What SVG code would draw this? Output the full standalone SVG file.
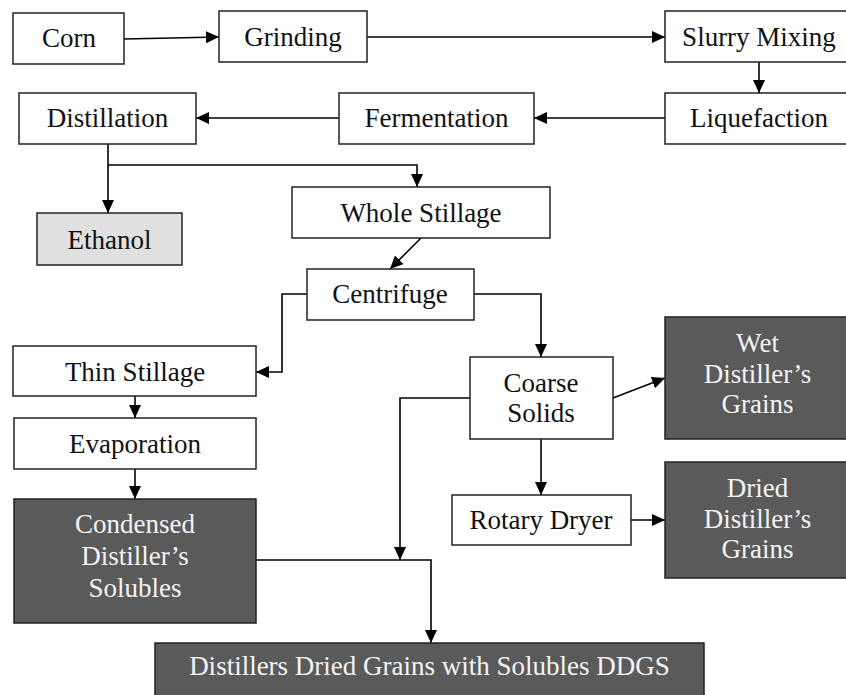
<svg xmlns="http://www.w3.org/2000/svg" width="846" height="695" viewBox="0 0 846 695">
<defs>
<marker id="ah" markerUnits="userSpaceOnUse" markerWidth="13" markerHeight="12" refX="13" refY="6" orient="auto">
<path d="M0,0 L13,6 L0,12 z" fill="#000"/>
</marker>
<style>
.n rect{fill:#fff;stroke:#222;stroke-width:1.5}
.n.g rect{fill:#e0e0e0}
.n.d rect{fill:#5a5a5a}
text{font-family:'Liberation Serif','Times New Roman','DejaVu Serif',serif;font-size:27px;fill:#111;text-anchor:middle}
.n.d text{fill:#f4f4f4}
#connectors path{fill:none;stroke:#000;stroke-width:1.6;marker-end:url(#ah)}
</style>
</defs>
<rect width="846" height="695" fill="#fff"/>
<g id="connectors">
<path d="M124,39 L219,37"/>
<path d="M367,37 L665,37"/>
<path d="M759,62 L759,93"/>
<path d="M665,118 L534,118"/>
<path d="M339,118 L196,118"/>
<path d="M108,144 L108,213"/>
<path d="M108,165 H417 V187"/>
<path d="M421,238 L390,269"/>
<path d="M307,294 H282 V372 H256"/>
<path d="M474,294 H541 V357"/>
<path d="M613,398 L665,378"/>
<path d="M541,439 L541,495"/>
<path d="M631,520 L665,520"/>
<path d="M470,398 H400 V560"/>
<path d="M256,560 H431 V643"/>
<path d="M135,396 L135,418"/>
<path d="M135,469 L135,499"/>
</g>
<g id="corn" class="n"><rect x="13" y="13" width="111" height="51"/><text x="69" y="47">Corn</text></g>
<g id="grinding" class="n"><rect x="219" y="11" width="148" height="51"/><text x="293" y="46">Grinding</text></g>
<g id="slurry" class="n"><rect x="665" y="11" width="190" height="51"/><text x="759" y="46">Slurry Mixing</text></g>
<g id="liquefaction" class="n"><rect x="665" y="93" width="190" height="51"/><text x="759" y="127">Liquefaction</text></g>
<g id="fermentation" class="n"><rect x="339" y="93" width="195" height="51"/><text x="436.5" y="127">Fermentation</text></g>
<g id="distillation" class="n"><rect x="19" y="93" width="177" height="51"/><text x="107.5" y="127">Distillation</text></g>
<g id="ethanol" class="n g"><rect x="37" y="213" width="145" height="52"/><text x="109.5" y="249">Ethanol</text></g>
<g id="whole-stillage" class="n"><rect x="292" y="187" width="258" height="51"/><text x="421" y="222">Whole Stillage</text></g>
<g id="centrifuge" class="n"><rect x="307" y="269" width="167" height="51"/><text x="390" y="303">Centrifuge</text></g>
<g id="thin-stillage" class="n"><rect x="13" y="346" width="243" height="50"/><text x="135" y="381">Thin Stillage</text></g>
<g id="evaporation" class="n"><rect x="14" y="418" width="242" height="51"/><text x="135" y="453">Evaporation</text></g>
<g id="cds" class="n d"><rect x="14" y="499" width="242" height="124"/><text x="135" y="533">Condensed</text><text x="135" y="565">Distiller’s</text><text x="135" y="597">Solubles</text></g>
<g id="coarse-solids" class="n"><rect x="470" y="357" width="143" height="82"/><text x="541" y="392">Coarse</text><text x="541" y="422">Solids</text></g>
<g id="wdg" class="n d"><rect x="665" y="317" width="185" height="122"/><text x="757.5" y="352">Wet</text><text x="757.5" y="383">Distiller’s</text><text x="757.5" y="413">Grains</text></g>
<g id="rotary-dryer" class="n"><rect x="452" y="495" width="179" height="50"/><text x="541" y="529">Rotary Dryer</text></g>
<g id="ddg" class="n d"><rect x="665" y="462" width="185" height="116"/><text x="757.5" y="497">Dried</text><text x="757.5" y="528">Distiller’s</text><text x="757.5" y="558">Grains</text></g>
<g id="ddgs" class="n d"><rect x="155" y="643" width="549" height="60"/><text x="429.5" y="675">Distillers Dried Grains with Solubles DDGS</text></g>
</svg>
